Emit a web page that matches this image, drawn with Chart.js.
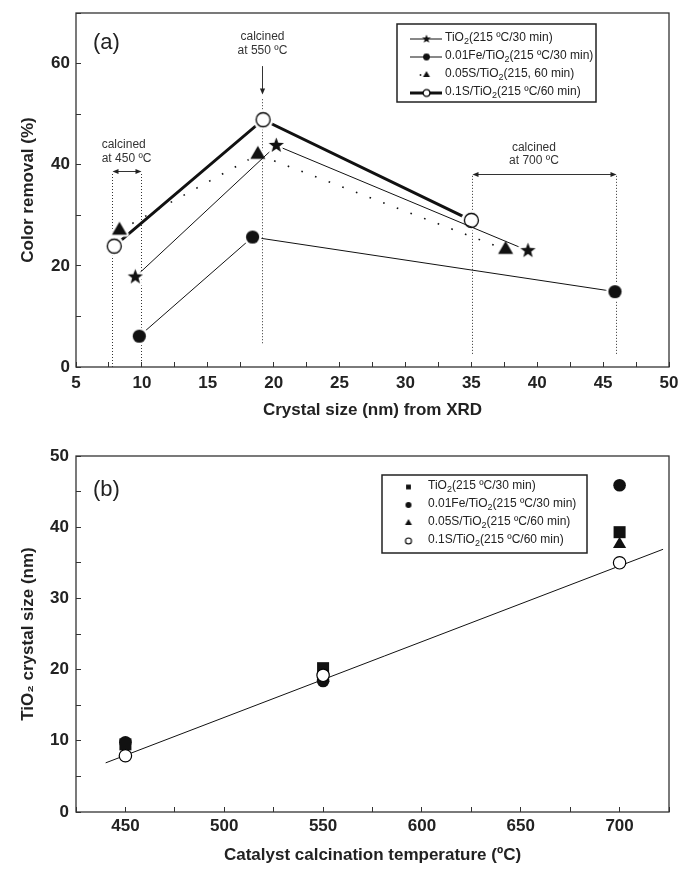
<!DOCTYPE html>
<html><head><meta charset="utf-8">
<script src="https://cdn.jsdelivr.net/npm/chart.js@4.4.1/dist/chart.umd.min.js"></script>
<style>
html,body{margin:0;padding:0;background:#fff;}
#wrap{position:relative;width:681px;height:874px;overflow:hidden;}
canvas{position:absolute;left:0;display:block;}
</style></head><body>
<div id="wrap">
<canvas id="ca" width="681" height="430" style="top:0"></canvas>
<canvas id="cb" width="681" height="444" style="top:430px"></canvas>
</div>
<script>
// ---------------- data ----------------
const seriesNamesA = ['TiO₂(215 ºC/30 min)', '0.01Fe/TiO₂(215 ºC/30 min)', '0.05S/TiO₂(215, 60 min)', '0.1S/TiO₂(215 ºC/60 min)'];
const seriesNamesB = ['TiO₂(215 ºC/30 min)', '0.01Fe/TiO₂(215 ºC/30 min)', '0.05S/TiO₂(215 ºC/60 min)', '0.1S/TiO₂(215 ºC/60 min)'];
const calcTemps = [450, 550, 700];
// crystal size (nm) from XRD, per calcination temperature
const crystalTiO2 = [9.5, 20.2, 39.3];
const crystalFe   = [9.8, 18.4, 45.9];
const crystalS005 = [8.3, 18.8, 37.6];
const crystalS01  = [7.9, 19.2, 35.0];
// colour removal (%)
const removalTiO2 = [17.8, 43.8, 23.0];
const removalFe   = [6.1, 25.7, 14.9];
const removalS005 = [27.0, 42.0, 23.2];
const removalS01  = [23.9, 48.9, 29.0];
// linear fit in panel (b)
const fitTemps = [440, 722];
const fitSizes = [6.9, 36.9];
// tick labels
const xTickLabelsA = [5, 10, 15, 20, 25, 30, 35, 40, 45, 50];
const yTickLabelsA = [0, 20, 40, 60];
const xTickLabelsB = [450, 500, 550, 600, 650, 700];
const yTickLabelsB = [0, 10, 20, 30, 40, 50];
// annotation guides in panel (a) (data units)
const guideX    = [7.75, 9.9, 19.15, 35.05, 46.0];
const guideFrom = [0, 0, 4.7, 2.6, 2.6];
const guideTo   = [38.4, 38.4, 53.3, 38.0, 38.0];
const calcLabels = ['at 450 ºC', 'at 550 ºC', 'at 700 ºC'];

// ---------------- helpers ----------------
const FONT = "'Liberation Sans', Arial, Helvetica, sans-serif";
Chart.defaults.font.family = FONT;
Chart.defaults.color = '#222';
const INK = '#111';

function marker(shape, r, o) {
  const halo = o.halo || 0;
  const size = Math.ceil(2 * (r + halo + 2));
  const c = document.createElement('canvas');
  c.width = c.height = size;
  const g = c.getContext('2d');
  const cx = size / 2, cy = size / 2;
  function path() {
    g.beginPath();
    if (shape === 'circle') g.arc(cx, cy, r, 0, Math.PI * 2);
    else if (shape === 'triangle') {
      for (let i = 0; i < 3; i++) { const a = -Math.PI / 2 + i * 2 * Math.PI / 3; g.lineTo(cx + r * Math.cos(a), cy + r * Math.sin(a)); }
      g.closePath();
    } else if (shape === 'star') {
      for (let i = 0; i < 10; i++) { const a = -Math.PI / 2 + i * Math.PI / 5; const rr = i % 2 ? r * 0.42 : r; g.lineTo(cx + rr * Math.cos(a), cy + rr * Math.sin(a)); }
      g.closePath();
    } else if (shape === 'rect') g.rect(cx - r, cy - r, 2 * r, 2 * r);
  }
  if (halo) { path(); g.lineJoin = 'round'; g.lineWidth = 2 * halo + (o.lw || 0); g.strokeStyle = '#fff'; g.stroke(); g.fillStyle = '#fff'; g.fill(); }
  path();
  if (o.fill) { g.fillStyle = o.fill; g.fill(); }
  if (o.stroke) { g.lineWidth = o.lw || 1; g.strokeStyle = o.stroke; g.stroke(); }
  return c;
}
const pts = (xs, ys) => xs.map((v, i) => ({x: v, y: ys[i]}));
const isLabel = (list, v) => list.some(t => Math.abs(t - v) < 1e-6);

function drawRich(ctx, text, x, y, size, color, weight) {
  ctx.fillStyle = color; ctx.textBaseline = 'middle'; ctx.textAlign = 'left';
  const w = weight || 'normal';
  const parts = text.split('₂');
  let cx = x;
  parts.forEach((p, i) => {
    ctx.font = `${w} ${size}px ${FONT}`; ctx.fillText(p, cx, y); cx += ctx.measureText(p).width;
    if (i < parts.length - 1) {
      ctx.font = `${w} ${Math.round(size * 0.72)}px ${FONT}`; ctx.fillText('2', cx, y + size * 0.32); cx += ctx.measureText('2').width;
    }
  });
}

const framePlugin = {
  id: 'frame',
  afterDatasetsDraw(chart, args, o) {
    const {ctx, chartArea: a} = chart;
    ctx.save();
    ctx.strokeStyle = '#333'; ctx.lineWidth = 1.3;
    ctx.strokeRect(a.left, a.top, a.right - a.left, a.bottom - a.top);
    ctx.fillStyle = '#222'; ctx.font = `22px ${FONT}`; ctx.textBaseline = 'middle'; ctx.textAlign = 'left';
    ctx.fillText(o.tag, a.left + 17, a.top + o.tagDy);
    ctx.restore();
  }
};

const legendPlugin = {
  id: 'boxLegend',
  afterDraw(chart, args, o) {
    const ctx = chart.ctx;
    ctx.save();
    ctx.fillStyle = '#fff';
    ctx.fillRect(o.box[0], o.box[1], o.box[2] - o.box[0], o.box[3] - o.box[1]);
    ctx.strokeStyle = '#222'; ctx.lineWidth = 1.5;
    ctx.strokeRect(o.box[0], o.box[1], o.box[2] - o.box[0], o.box[3] - o.box[1]);
    o.rows.forEach((r, i) => {
      const y = o.y0 + i * o.dy;
      if (r.line) {
        ctx.strokeStyle = INK; ctx.lineWidth = r.line;
        ctx.beginPath(); ctx.moveTo(o.sx[0], y); ctx.lineTo(o.sx[1], y); ctx.stroke();
      }
      if (r.dot) { ctx.fillStyle = INK; ctx.fillRect(r.dot - 0.8, y - 0.8, 1.6, 1.6); }
      const m = r.m;
      ctx.drawImage(m, o.mx - m.width / 2, y - m.height / 2);
      drawRich(ctx, r.text, o.tx, y - 1, 12, '#222');
    });
    ctx.restore();
  }
};

const annotatePlugin = {
  id: 'annotate',
  beforeDatasetsDraw(chart) {
    const {ctx, scales: {x, y}} = chart;
    const X = v => Math.round(x.getPixelForValue(v)) + 0.5;
    const Y = v => y.getPixelForValue(v);
    ctx.save();
    ctx.strokeStyle = '#333'; ctx.lineWidth = 1; ctx.setLineDash([1, 2]);
    guideX.forEach((gx, i) => {
      ctx.beginPath(); ctx.moveTo(X(gx), Y(guideFrom[i])); ctx.lineTo(X(gx), Y(guideTo[i])); ctx.stroke();
    });
    ctx.setLineDash([]);
    ctx.fillStyle = '#222';
    function head(px, py, dx, dy) {
      const L = 6, W = 2.6, nx = -dy, ny = dx;
      ctx.beginPath(); ctx.moveTo(px, py);
      ctx.lineTo(px - dx * L + nx * W, py - dy * L + ny * W);
      ctx.lineTo(px - dx * L - nx * W, py - dy * L - ny * W);
      ctx.closePath(); ctx.fill();
    }
    function dbl(x1, x2, yv) {
      const py = Math.round(Y(yv)) + 0.5, p1 = X(x1), p2 = X(x2);
      ctx.beginPath(); ctx.moveTo(p1 + 2, py); ctx.lineTo(p2 - 2, py); ctx.stroke();
      head(p1, py, -1, 0); head(p2, py, 1, 0);
    }
    dbl(guideX[0], guideX[1], 38.7);
    dbl(guideX[3], guideX[4], 38.2);
    // downward arrow at 550 ºC
    const ax = X(guideX[2]);
    ctx.beginPath(); ctx.moveTo(ax, Y(59.5)); ctx.lineTo(ax, Y(54) - 3); ctx.stroke();
    head(ax, Y(53.9), 0, 1);
    // texts
    ctx.font = `12px ${FONT}`; ctx.fillStyle = '#333'; ctx.textBaseline = 'middle';
    ctx.textAlign = 'left';
    ctx.fillText('calcined', x.getPixelForValue(6.95), Y(44.0));
    ctx.fillText(calcLabels[0], x.getPixelForValue(6.95), Y(41.2));
    ctx.textAlign = 'center';
    ctx.fillText('calcined', x.getPixelForValue(19.15), Y(65.4));
    ctx.fillText(calcLabels[1], x.getPixelForValue(19.15), Y(62.6));
    ctx.fillText('calcined', x.getPixelForValue(39.75), Y(43.4));
    ctx.fillText(calcLabels[2], x.getPixelForValue(39.75), Y(40.7));
    ctx.restore();
  }
};

function zeroPad(s) { s.paddingTop = 0; s.paddingBottom = 0; s.paddingLeft = 0; s.paddingRight = 0; }
function axisCommon(extra) {
  return Object.assign({
    type: 'linear',
    border: {display: false},
    grid: {display: true, drawOnChartArea: false, drawTicks: true, tickLength: -5, tickColor: '#333', tickWidth: 1},
  }, extra);
}

// ---------------- panel (a) ----------------
const mA = {
  star: marker('star', 8, {fill: INK, halo: 2.5}),
  dot: marker('circle', 6.6, {fill: INK, halo: 2.5}),
  tri: marker('triangle', 8.7, {fill: INK, halo: 2}),
  open: marker('circle', 7, {fill: '#fff', stroke: '#000', lw: 1.3, halo: 2.5}),
};
const mLA = {
  star: marker('star', 4.6, {fill: INK}),
  dot: marker('circle', 3.4, {fill: INK}),
  tri: marker('triangle', 4, {fill: INK}),
  open: marker('circle', 3.4, {fill: '#fff', stroke: '#000', lw: 1.2}),
};

new Chart(document.getElementById('ca'), {
  type: 'scatter',
  data: {
    datasets: [
      {label: seriesNamesA[0], data: pts(crystalTiO2, removalTiO2), showLine: true, borderColor: INK, borderWidth: 1, pointStyle: mA.star, pointRadius: 6, order: 1},
      {label: seriesNamesA[1], data: pts(crystalFe, removalFe), showLine: true, borderColor: INK, borderWidth: 1, pointStyle: mA.dot, pointRadius: 6, order: 0},
      {label: seriesNamesA[2], data: pts(crystalS005, removalS005), showLine: true, borderColor: INK, borderWidth: 1.6, borderDash: [1.6, 13], pointStyle: mA.tri, pointRadius: 6, order: 2},
      {label: seriesNamesA[3], data: pts(crystalS01, removalS01), showLine: true, borderColor: INK, borderWidth: 3, pointStyle: mA.open, pointRadius: 6, order: 3},
    ]
  },
  options: {
    responsive: false, animation: false, events: [],
    layout: {padding: {left: 0, right: 12, top: 13, bottom: 0}},
    plugins: {
      legend: {display: false}, tooltip: {enabled: false},
      frame: {tag: '(a)', tagDy: 30},
      boxLegend: {
        box: [397, 24, 596, 102], y0: 39, dy: 18, sx: [410, 442], mx: 426.5, tx: 445,
        rows: [
          {text: seriesNamesA[0], line: 1, m: mLA.star},
          {text: seriesNamesA[1], line: 1, m: mLA.dot},
          {text: seriesNamesA[2], line: 0, dot: 420.5, m: mLA.tri},
          {text: seriesNamesA[3], line: 3, m: mLA.open},
        ]
      }
    },
    scales: {
      x: axisCommon({
        min: 5, max: 50,
        ticks: {stepSize: 2.5, autoSkip: false, maxRotation: 0, padding: 11.4, color: '#222', font: {size: 17, weight: 'bold'},
          callback: v => isLabel(xTickLabelsA, v) ? String(v) : ''},
        title: {display: true, text: 'Crystal size (nm) from XRD', color: '#222', font: {size: 17, weight: 'bold'}, padding: {top: 0, bottom: 9.8}},
        afterFit: s => { s.height = 63; zeroPad(s); }
      }),
      y: axisCommon({
        min: 0, max: 70,
        ticks: {stepSize: 10, autoSkip: false, padding: 11, color: '#222', font: {size: 17, weight: 'bold'},
          callback: v => isLabel(yTickLabelsA, v) ? String(v) : ''},
        title: {display: true, text: 'Color removal (%)', color: '#222', font: {size: 17, weight: 'bold'}, padding: {top: 18, bottom: 0}},
        afterFit: s => { s.width = 76; zeroPad(s); }
      })
    }
  },
  plugins: [annotatePlugin, framePlugin, legendPlugin]
});

// ---------------- panel (b) ----------------
const mLB = {
  sq: marker('rect', 2.4, {fill: INK}),
  dot: marker('circle', 3, {fill: INK}),
  tri: marker('triangle', 4, {fill: INK}),
  open: marker('circle', 3, {fill: '#fff', stroke: '#000', lw: 1.1}),
};

new Chart(document.getElementById('cb'), {
  type: 'scatter',
  data: {
    datasets: [
      {label: seriesNamesB[0], data: pts(calcTemps, crystalTiO2), pointStyle: 'rect', pointRadius: 8.5, pointBackgroundColor: INK, pointBorderWidth: 0, order: 1},
      {label: seriesNamesB[1], data: pts(calcTemps, crystalFe), pointStyle: 'circle', pointRadius: 6.3, pointBackgroundColor: INK, pointBorderWidth: 0, order: 3},
      {label: seriesNamesB[2], data: pts(calcTemps, crystalS005), pointStyle: 'triangle', pointRadius: 7.6, pointBackgroundColor: INK, pointBorderWidth: 0, order: 2},
      {label: seriesNamesB[3], data: pts(calcTemps, crystalS01), pointStyle: 'circle', pointRadius: 6.2, pointBackgroundColor: '#fff', pointBorderColor: '#000', pointBorderWidth: 1.2, order: 0},
      {label: 'fit', data: pts(fitTemps, fitSizes), showLine: true, borderColor: INK, borderWidth: 1, pointRadius: 0, order: 4},
    ]
  },
  options: {
    responsive: false, animation: false, events: [],
    layout: {padding: {left: 0, right: 12, top: 26, bottom: 0}},
    plugins: {
      legend: {display: false}, tooltip: {enabled: false},
      frame: {tag: '(b)', tagDy: 34},
      boxLegend: {
        box: [382, 45, 587, 123], y0: 57, dy: 18, sx: [0, 0], mx: 408.5, tx: 428,
        rows: [
          {text: seriesNamesB[0], line: 0, m: mLB.sq},
          {text: seriesNamesB[1], line: 0, m: mLB.dot},
          {text: seriesNamesB[2], line: 0, m: mLB.tri},
          {text: seriesNamesB[3], line: 0, m: mLB.open},
        ]
      }
    },
    scales: {
      x: axisCommon({
        min: 425, max: 725,
        ticks: {stepSize: 25, autoSkip: false, maxRotation: 0, padding: 9, color: '#222', font: {size: 17, weight: 'bold'},
          callback: v => isLabel(xTickLabelsB, v) ? String(v) : ''},
        title: {display: true, text: 'Catalyst calcination temperature (ºC)', color: '#222', font: {size: 17, weight: 'bold'}, padding: {top: 0, bottom: 8.8}},
        afterFit: s => { s.height = 62; zeroPad(s); }
      }),
      y: axisCommon({
        min: 0, max: 50,
        ticks: {stepSize: 5, autoSkip: false, padding: 12, color: '#222', font: {size: 17, weight: 'bold'},
          callback: v => isLabel(yTickLabelsB, v) ? String(v) : ''},
        title: {display: true, text: 'TiO₂ crystal size (nm)', color: '#222', font: {size: 17, weight: 'bold'}, padding: {top: 18, bottom: 0}},
        afterFit: s => { s.width = 76; zeroPad(s); }
      })
    }
  },
  plugins: [framePlugin, legendPlugin]
});
</script>
</body></html>
